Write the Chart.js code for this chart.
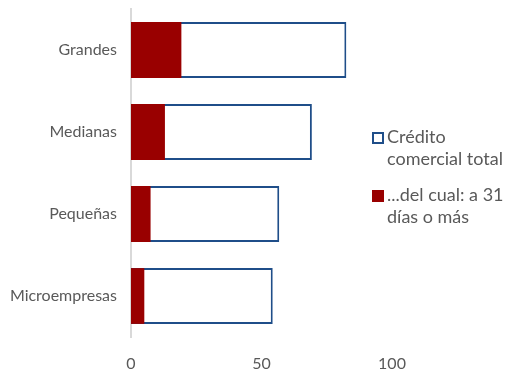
<!DOCTYPE html>
<html lang="es">
<head>
<meta charset="UTF-8">
<title>Crédito comercial</title>
<script src="https://cdn.jsdelivr.net/npm/chart.js@4"></script>
<style>
  html, body { margin: 0; padding: 0; background: #fff; }
  #wrap { position: relative; width: 515px; height: 369px; }
  #legend {
    position: absolute; left: 372px; top: 125px;
    font-family: Lato, sans-serif; font-size: 18px; color: #595959;
    line-height: 22px;
  }
  .item { position: relative; padding-left: 15px; margin-bottom: 14px; white-space: nowrap; }
  .box { position: absolute; left: 0; top: 7px; width: 12px; height: 12px; box-sizing: border-box; }
</style>
</head>
<body>
<div id="wrap">
  <canvas id="c" width="515" height="369"></canvas>
  <div id="legend">
    <div class="item"><span class="box" style="border:2px solid #1F4E89;background:#fff"></span>Crédito<br>comercial total</div>
    <div class="item"><span class="box" style="background:#990000"></span>...del cual: a 31<br>días o más</div>
  </div>
</div>
<script>
const categories = ['Grandes', 'Medianas', 'Pequeñas', 'Microempresas'];
const totalCredit = [82.5, 69.3, 56.8, 54.3];
const overdue31 = [19.3, 13.0, 7.5, 5.1];
const xTicks = [0, 50, 100];

const tickFont = { family: 'Lato, sans-serif', size: 16 };

new Chart(document.getElementById('c'), {
    type: 'bar',
    data: {
        labels: categories,
        datasets: [
            {
                label: '...del cual: a 31 días o más',
                data: overdue31,
                backgroundColor: '#990000',
                borderWidth: 0
            },
            {
                label: 'Crédito comercial total',
                data: totalCredit,
                backgroundColor: '#ffffff',
                borderColor: '#1F4E89',
                borderWidth: 2,
                borderSkipped: false
            }
        ]
    },
    options: {
        indexAxis: 'y',
        responsive: false,
        animation: false,
        grouped: false,
        categoryPercentage: 1,
        barPercentage: 0.68,
        layout: { padding: { top: 9, right: 123, left: 0, bottom: 0 } },
        plugins: { legend: { display: false }, tooltip: { enabled: false } },
        scales: {
            x: {
                min: 0, max: 100,
                afterBuildTicks: s => { s.ticks = xTicks.map(v => ({ value: v })); },
                grid: { display: false, drawTicks: false },
                border: { display: false },
                ticks: { color: '#595959', font: tickFont, padding: 17 },
                afterFit: s => { s.height = 32; s.paddingLeft = 0; s.paddingRight = 0; }
            },
            y: {
                grid: { display: false, drawTicks: false },
                border: { display: true, color: '#d9d9d9', width: 2 },
                ticks: { color: '#595959', font: tickFont, padding: 14 },
                afterFit: s => { s.width = 131; s.paddingTop = 0; s.paddingBottom = 0; }
            }
        }
    }
});
</script>
</body>
</html>
